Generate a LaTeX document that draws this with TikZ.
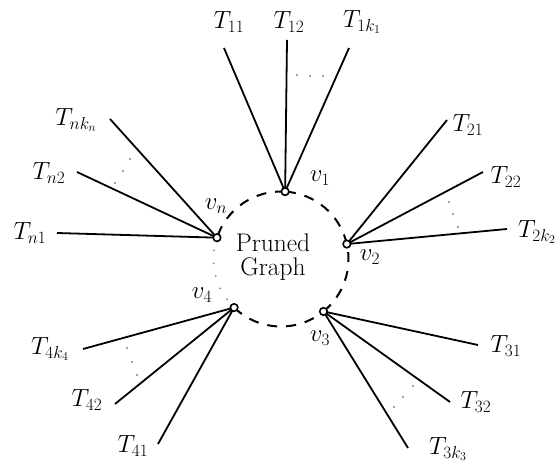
\documentclass[tikz,border=0pt]{standalone}
\usetikzlibrary{calc}
\begin{document}
\begin{tikzpicture}[x=1pt,y=1pt,
  lbl/.style={inner sep=0pt,font=\fontsize{25.5}{30}\selectfont},
  edge/.style={line width=1.8pt},
  vmark/.style={circle,draw,fill=white,line width=1.6pt,minimum size=7.5pt,inner sep=0pt},
  dashc/.style={line width=2pt,dash pattern=on 10pt off 9pt},
  dotc/.style={line width=2pt,dash pattern=on 0pt off 13pt,line cap=round,gray},
  tdot/.style={circle,fill=gray,inner sep=0pt,minimum size=2.2pt}]
\useasboundingbox (0,0) rectangle (560,465);
\coordinate (C) at (281,206);
\def\R{67.5pt}
\coordinate (v1) at ($(C)+(86.5:67.5)$);
\coordinate (vn) at ($(C)+(161.6:67.5)$);
\coordinate (v2) at ($(C)+(12.8:67.5)$);
\coordinate (v4) at ($(C)+(226:67.5)$);
\coordinate (v3) at ($(C)+(309:67.5)$);
% circle
\draw[dashc] (v2) arc[start angle=12.8,end angle=86.5,radius=\R];
\draw[dashc] (v1) arc[start angle=86.5,end angle=161.6,radius=\R];
\draw[dotc] (vn) arc[start angle=161.6,end angle=226,radius=\R];
\draw[dashc] (v4) arc[start angle=226,end angle=309,radius=\R];
\draw[dashc] (v3) arc[start angle=309,end angle=372.8,radius=\R];
\node[lbl,align=center,font=\fontsize{25.5}{24}\selectfont] (pg) at (273,208) {Pruned\\Graph};
% v1 group
\coordinate (e11) at (224,417); \coordinate (e12) at (287,425); \coordinate (e1k) at (349,417);
\draw[edge] (v1) -- (e11); \draw[edge] (v1) -- (e12); \draw[edge] (v1) -- (e1k);
\node[lbl] (t11) at (229,443) {$T_{11}$};
\node[lbl] (t12) at (289,443) {$T_{12}$};
\node[lbl] (t1k) at (362,443) {$T_{1k_1}$};
\node[tdot] (d11) at (297,390) {}; \node[tdot] (d12) at (310,389) {}; \node[tdot] (d13) at (323,389) {};
% vn group
\coordinate (en1) at (57,232); \coordinate (en2) at (77,293); \coordinate (enk) at (110,346);
\draw[edge] (vn) -- (en1); \draw[edge] (vn) -- (en2); \draw[edge] (vn) -- (enk);
\node[lbl] (tn1) at (30,232) {$T_{n1}$};
\node[lbl] (tn2) at (49,292) {$T_{n2}$};
\node[lbl] (tnk) at (76,345) {$T_{nk_n}$};
\node[tdot] (dn1) at (115,282) {}; \node[tdot] (dn2) at (123,294) {}; \node[tdot] (dn3) at (130,306) {};
% v2 group
\coordinate (e21) at (447,345); \coordinate (e22) at (483,293); \coordinate (e2k) at (507,236);
\draw[edge] (v2) -- (e21); \draw[edge] (v2) -- (e22); \draw[edge] (v2) -- (e2k);
\node[lbl] (t21) at (468,340) {$T_{21}$};
\node[lbl] (t22) at (506,288) {$T_{22}$};
\node[lbl] (t2k) at (537,233) {$T_{2k_2}$};
\node[tdot] (d21) at (449,263) {}; \node[tdot] (d22) at (453,251) {}; \node[tdot] (d23) at (458,238) {};
% v3 group
\coordinate (e31) at (478,120); \coordinate (e32) at (450,63); \coordinate (e3k) at (408,17);
\draw[edge] (v3) -- (e31); \draw[edge] (v3) -- (e32); \draw[edge] (v3) -- (e3k);
\node[lbl] (t31) at (506,119) {$T_{31}$};
\node[lbl] (t32) at (476,63) {$T_{32}$};
\node[lbl] (t3k) at (448,16) {$T_{3k_3}$};
\node[tdot] (d31) at (413,79) {}; \node[tdot] (d32) at (403,68) {}; \node[tdot] (d33) at (394,58) {};
% v4 group
\coordinate (e41) at (158,21); \coordinate (e42) at (115,61); \coordinate (e4k) at (83,116);
\draw[edge] (v4) -- (e41); \draw[edge] (v4) -- (e42); \draw[edge] (v4) -- (e4k);
\node[lbl] (t41) at (133,19) {$T_{41}$};
\node[lbl] (t42) at (87,65) {$T_{42}$};
\node[lbl] (t4k) at (50,116) {$T_{4k_4}$};
\node[tdot] (d41) at (127,117) {}; \node[tdot] (d42) at (132,103) {}; \node[tdot] (d43) at (137,90) {};
% vertex markers and labels
\node[vmark] (m1) at (v1) {}; \node[vmark] (mn) at (vn) {}; \node[vmark] (m2) at (v2) {};
\node[vmark] (m3) at (v3) {}; \node[vmark] (m4) at (v4) {};
\node[lbl] (l1) at (320,287) {$v_1$};
\node[lbl] (ln) at (216,259) {$v_n$};
\node[lbl] (l2) at (370,208) {$v_2$};
\node[lbl] (l3) at (320,127) {$v_3$};
\node[lbl] (l4) at (202,170) {$v_4$};
\end{tikzpicture}
\end{document}
